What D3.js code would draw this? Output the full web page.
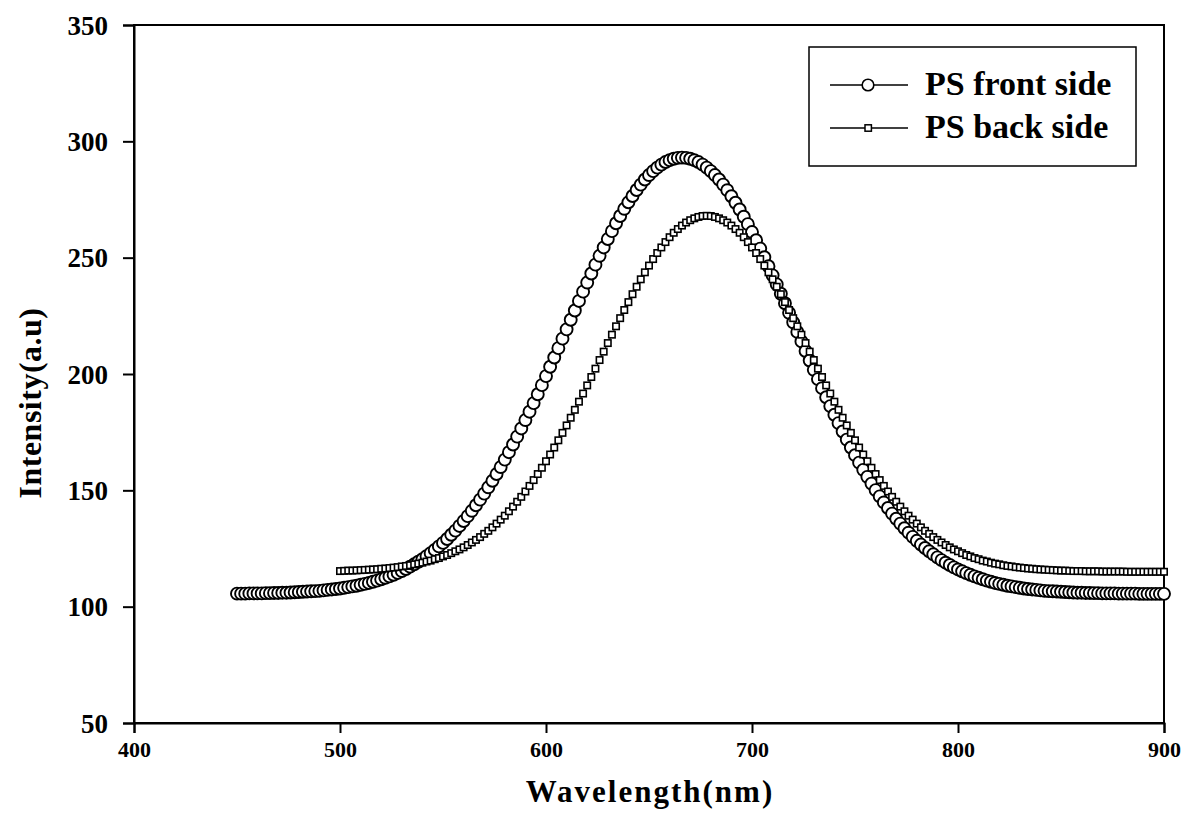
<!DOCTYPE html>
<html>
<head>
<meta charset="utf-8">
<script src="https://cdnjs.cloudflare.com/ajax/libs/d3/7.8.5/d3.min.js"></script>
<style>
  body { margin: 0; background: #fff; }
  svg { display: block; font-family: "Times New Roman", "Liberation Serif", serif; font-weight: bold; }
</style>
</head>
<body>
<svg id="chart" width="1188" height="831"></svg>
<script>
// wavelength grid (nm)
var frontStart = 450, backStart = 500, stepNm = 2;

// PS front side intensity, 450..900 nm every 2 nm
var frontValues = [
  105.6, 105.6, 105.6, 105.7, 105.7, 105.7, 105.7, 105.8,
  105.8, 105.9, 105.9, 106.0, 106.0, 106.1, 106.2, 106.3, 106.4, 106.5,
  106.6, 106.7, 106.8, 107.0, 107.2, 107.4, 107.6, 107.8, 108.1, 108.4,
  108.7, 109.0, 109.4, 109.8, 110.2, 110.7, 111.2, 111.8, 112.4, 113.0,
  113.7, 114.5, 115.3, 116.2, 117.2, 118.2, 119.3, 120.4, 121.7, 123.0,
  124.4, 125.9, 127.4, 129.1, 130.9, 132.7, 134.7, 136.8, 138.9, 141.2,
  143.6, 146.0, 148.6, 151.3, 154.1, 157.0, 160.0, 163.2, 166.4, 169.7,
  173.1, 176.6, 180.2, 183.8, 187.5, 191.3, 195.2, 199.1, 203.1, 207.1,
  211.1, 215.2, 219.2, 223.3, 227.3, 231.4, 235.4, 239.3, 243.2, 247.0,
  250.8, 254.4, 258.0, 261.4, 264.8, 267.9, 271.0, 273.8, 276.5, 279.1,
  281.4, 283.6, 285.5, 287.2, 288.7, 290.0, 291.1, 291.9, 292.5, 292.9,
  293.0,
  292.9, 292.5, 291.9, 291.1, 290.0, 288.7, 287.2, 285.5, 283.6, 281.4,
  279.0, 276.4, 273.6, 270.7, 267.6, 264.4, 261.0, 257.5, 253.9, 250.2,
  246.3, 242.4, 238.5, 234.5, 230.4, 226.3, 222.2, 218.1, 214.0, 209.9,
  205.8, 201.8, 197.8, 193.9, 190.0, 186.2, 182.5, 178.9, 175.3, 171.8,
  168.4, 165.1, 161.9, 158.8, 155.8, 152.9, 150.1, 147.4, 144.8, 142.4,
  140.0, 137.8, 135.7, 133.7, 131.8, 130.0, 128.3, 126.7, 125.2, 123.8,
  122.5, 121.2, 120.0, 118.9, 117.9, 116.9, 116.0, 115.2, 114.4, 113.7,
  113.0, 112.4, 111.8, 111.2, 110.7, 110.2, 109.8, 109.4, 109.0, 108.7,
  108.4, 108.1, 107.8, 107.6, 107.4, 107.2, 107.0, 106.8, 106.7, 106.6,
  106.5, 106.4, 106.3, 106.2, 106.1, 106.0, 106.0, 105.9, 105.9, 105.8,
  105.8, 105.7, 105.7, 105.7, 105.7, 105.6, 105.6, 105.6, 105.6, 105.6,
  105.5, 105.5, 105.5, 105.5, 105.5, 105.5, 105.5
];

// PS back side intensity, 500..900 nm every 2 nm
var backValues = [
  115.3, 115.4, 115.5, 115.5, 115.6, 115.7, 115.8, 115.9, 116.0, 116.1,
  116.3, 116.4, 116.6, 116.8, 117.0, 117.3, 117.5, 117.8, 118.2, 118.5,
  118.9, 119.4, 119.8, 120.4, 120.9, 121.6, 122.2, 123.0, 123.8, 124.6,
  125.5, 126.5, 127.6, 128.7, 129.9, 131.3, 132.6, 134.1, 135.7, 137.4,
  139.1, 141.0, 143.0, 145.1, 147.2, 149.5, 151.9, 154.4, 157.0, 159.7,
  162.5, 165.4, 168.4, 171.5, 174.7, 177.9, 181.2, 184.6, 188.1, 191.6,
  195.1, 198.7, 202.3, 206.0, 209.6, 213.3, 216.9, 220.5, 224.0, 227.5,
  230.9, 234.3, 237.5, 240.7, 243.7, 246.6, 249.4, 252.0, 254.4, 256.7,
  258.8, 260.7, 262.3, 263.8, 265.1, 266.1, 266.9, 267.5, 267.9,
  268.0,
  267.9, 267.5, 266.9, 266.1, 265.1, 263.8, 262.3, 260.7, 258.8, 256.7,
  254.4, 252.0, 249.4, 246.6, 243.7, 240.7, 237.5, 234.3, 230.9, 227.5,
  224.0, 220.5, 216.9, 213.3, 209.6, 206.0, 202.3, 198.7, 195.1, 191.6,
  188.1, 184.6, 181.2, 177.9, 174.7, 171.5, 168.4, 165.4, 162.5, 159.7,
  157.0, 154.4, 151.9, 149.5, 147.2, 145.1, 143.0, 141.0, 139.1, 137.4,
  135.7, 134.1, 132.6, 131.3, 129.9, 128.7, 127.6, 126.5, 125.5, 124.6,
  123.8, 123.0, 122.2, 121.6, 120.9, 120.4, 119.8, 119.4, 118.9, 118.5,
  118.2, 117.8, 117.5, 117.3, 117.0, 116.8, 116.6, 116.4, 116.3, 116.1,
  116.0, 115.9, 115.8, 115.7, 115.6, 115.5, 115.5, 115.4, 115.3, 115.3,
  115.3, 115.2, 115.2, 115.2, 115.2, 115.1, 115.1, 115.1, 115.1, 115.1,
  115.1, 115.0, 115.0, 115.0, 115.0, 115.0, 115.0, 115.0, 115.0, 115.0, 115.0
];

var xTicks = [400, 500, 600, 700, 800, 900];
var yTicks = [50, 100, 150, 200, 250, 300, 350];
var seriesNames = ["PS front side", "PS back side"];

var margin = {left: 134, right: 24, top: 25, bottom: 108};
var W = 1188, H = 831;

var svg = d3.select('#chart');
var x = d3.scaleLinear().domain([400, 900]).range([margin.left, W - margin.right]);
var y = d3.scaleLinear().domain([50, 350]).range([H - margin.bottom, margin.top]);

function toPoints(start, vals) {
  return vals.map(function(v, i) { return {x: start + i * stepNm, y: v}; });
}
var front = toPoints(frontStart, frontValues);
var back = toPoints(backStart, backValues);

// frame
svg.append('rect')
  .attr('x', x(400)).attr('y', y(350))
  .attr('width', x(900) - x(400)).attr('height', y(50) - y(350))
  .attr('fill', 'none').attr('stroke', '#000').attr('stroke-width', 2);

// axes
var xAxis = svg.append('g')
  .attr('transform', 'translate(0,' + y(50) + ')')
  .call(d3.axisBottom(x).tickValues(xTicks).tickSize(10).tickPadding(8).tickFormat(d3.format('d')));
var yAxis = svg.append('g')
  .attr('transform', 'translate(' + x(400) + ',0)')
  .call(d3.axisLeft(y).tickValues(yTicks).tickSize(11).tickPadding(15).tickFormat(d3.format('d')));

[xAxis, yAxis].forEach(function(a) {
  a.attr('font-family', null).attr('font-size', null);
  a.select('.domain').attr('stroke-width', 2);
  a.selectAll('.tick line').attr('stroke-width', 2);
  a.selectAll('text').attr('fill', '#000');
});
xAxis.selectAll('text').attr('font-size', 22).attr('dy', '0.71em');
yAxis.selectAll('text').attr('font-size', 27).attr('dy', '0.34em');

// axis titles
svg.append('text')
  .attr('x', 650).attr('y', 802)
  .attr('text-anchor', 'middle')
  .attr('font-size', 31)
  .attr('letter-spacing', 2)
  .text('Wavelength(nm)');
svg.append('text')
  .attr('transform', 'translate(41,403) rotate(-90)')
  .attr('text-anchor', 'middle')
  .attr('font-size', 32)
  .attr('letter-spacing', 0.5)
  .text('Intensity(a.u)');

// series
var line = d3.line().x(function(d) { return x(d.x); }).y(function(d) { return y(d.y); });

svg.append('path').datum(front).attr('d', line)
  .attr('fill', 'none').attr('stroke', '#000').attr('stroke-width', 1);
svg.append('g').selectAll('circle')
  .data(front)
  .enter()
  .append('circle')
  .attr('cx', function(d) { return x(d.x); })
  .attr('cy', function(d) { return y(d.y); })
  .attr('r', 6)
  .attr('fill', '#fff').attr('stroke', '#000').attr('stroke-width', 1.9);

svg.append('path').datum(back).attr('d', line)
  .attr('fill', 'none').attr('stroke', '#000').attr('stroke-width', 1);
svg.append('g').selectAll('rect')
  .data(back)
  .enter()
  .append('rect')
  .attr('x', function(d) { return x(d.x) - 3.2; })
  .attr('y', function(d) { return y(d.y) - 3.2; })
  .attr('width', 6.4).attr('height', 6.4)
  .attr('fill', '#fff').attr('stroke', '#000').attr('stroke-width', 1.6);

// legend
var lg = svg.append('g');
lg.append('rect')
  .attr('x', 809).attr('y', 47).attr('width', 327).attr('height', 119)
  .attr('fill', '#fff').attr('stroke', '#000').attr('stroke-width', 1.5);
seriesNames.forEach(function(name, i) {
  var ly = 85 + i * 43;
  lg.append('line').attr('x1', 830).attr('x2', 908).attr('y1', ly).attr('y2', ly)
    .attr('stroke', '#000').attr('stroke-width', 1.5);
  if (i === 0) {
    lg.append('circle').attr('cx', 868).attr('cy', ly).attr('r', 5.8)
      .attr('fill', '#fff').attr('stroke', '#000').attr('stroke-width', 1.6);
  } else {
    lg.append('rect').attr('x', 865).attr('y', ly - 3.2).attr('width', 6.4).attr('height', 6.4)
      .attr('fill', '#fff').attr('stroke', '#000').attr('stroke-width', 1.5);
  }
  lg.append('text').attr('x', 925).attr('y', ly + 10)
    .attr('font-size', 34)
    .text(name);
});
</script>
</body>
</html>
